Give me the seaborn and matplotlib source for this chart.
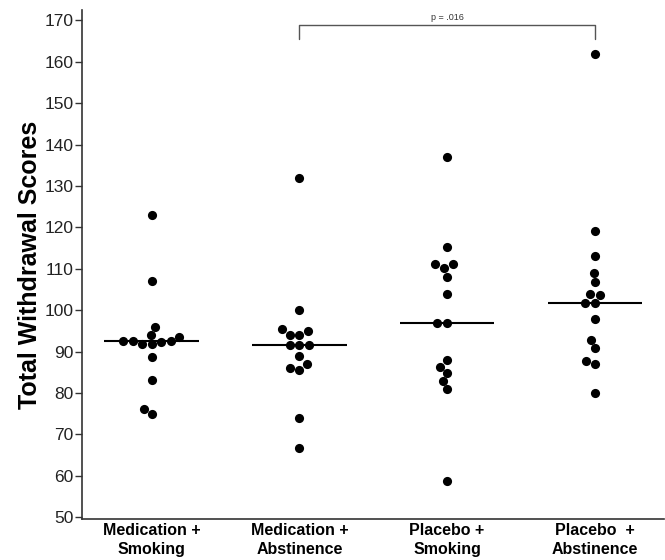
import numpy as np
import pandas as pd
import seaborn as sns
import matplotlib.pyplot as plt

# scores, 15 subjects per group
med_smoking = [123, 107, 96, 93.5, 94.0, 92.6, 92.6, 92.6, 92.3, 91.8, 91.8, 88.7, 83, 76.1, 74.9]
med_abstinence = [132, 100, 95.0, 95.4, 94.0, 94.0, 91.6, 91.6, 91.6, 89.0, 86.9, 85.9, 85.6, 74.0, 66.8]
plc_smoking = [137.1, 115.2, 111.1, 111.1, 110.1, 108.0, 103.9, 97.0, 97.0, 87.9, 86.3, 84.9, 82.9, 80.9, 58.8]
plc_abstinence = [161.8, 119.0, 113.0, 109.0, 106.8, 103.9, 103.6, 101.7, 101.7, 97.8, 92.8, 90.8, 87.8, 86.9, 80.0]

groups = ["Medication +\nSmoking", "Medication +\nAbstinence",
          "Placebo +\nSmoking", "Placebo  +\nAbstinence"]
p_text = "p = .016"

df = pd.DataFrame({
    "group": np.repeat(groups, 15),
    "score": med_smoking + med_abstinence + plc_smoking + plc_abstinence,
})

sns.set_style("white")
plt.rcParams["font.family"] = ["Liberation Sans", "DejaVu Sans"]
plt.rcParams["text.color"] = "k"
plt.rcParams["axes.labelcolor"] = "k"
plt.rcParams["xtick.color"] = "k"
plt.rcParams["ytick.color"] = "k"

fig = plt.figure(figsize=(6.65, 5.6), dpi=100, facecolor="w")
ax = fig.add_axes([0.123, 0.073, 0.875, 0.909])

# median lines
sns.boxplot(data=df, x="group", y="score", order=groups, ax=ax,
            showbox=False, showcaps=False, showfliers=False, width=0.64,
            whiskerprops={"visible": False},
            medianprops={"color": "k", "linewidth": 1.5})
sns.swarmplot(data=df, x="group", y="score", order=groups, ax=ax,
              color="k", size=6.6, zorder=5)

ax.set_xlim(-0.473, 3.466)
ax.set_ylim(49.5, 172.5)
ax.set_yticks(np.arange(50, 171, 10))
ax.set_xlabel("")
ax.set_ylabel("Total Withdrawal Scores", fontsize=18, fontweight="bold", labelpad=2)

for lab in ax.get_yticklabels():
    lab.set_family(["Liberation Sans Narrow", "Liberation Sans"])
    lab.set_fontsize(12.5)
    lab.set_color("#222222")
for lab in ax.get_xticklabels():
    lab.set_fontweight("bold")
    lab.set_fontsize(11.5)
    lab.set_linespacing(1.3)

ax.tick_params(axis="y", direction="out", length=5, width=1, color="#333333", left=True, pad=1)
ax.tick_params(axis="x", length=0, pad=3)
for side in ["top", "right"]:
    ax.spines[side].set_visible(False)
for side in ["left", "bottom"]:
    ax.spines[side].set_color("#333333")
    ax.spines[side].set_linewidth(1.2)

# significance bracket between group 2 and group 4
ax.plot([1, 1, 3, 3], [165.4, 168.8, 168.8, 165.4], color="#555555", lw=1)
ax.text(2, 169.6, p_text, ha="center", va="bottom", fontsize=6.5, color="#333333")

fig.savefig("out.png", dpi=100)
